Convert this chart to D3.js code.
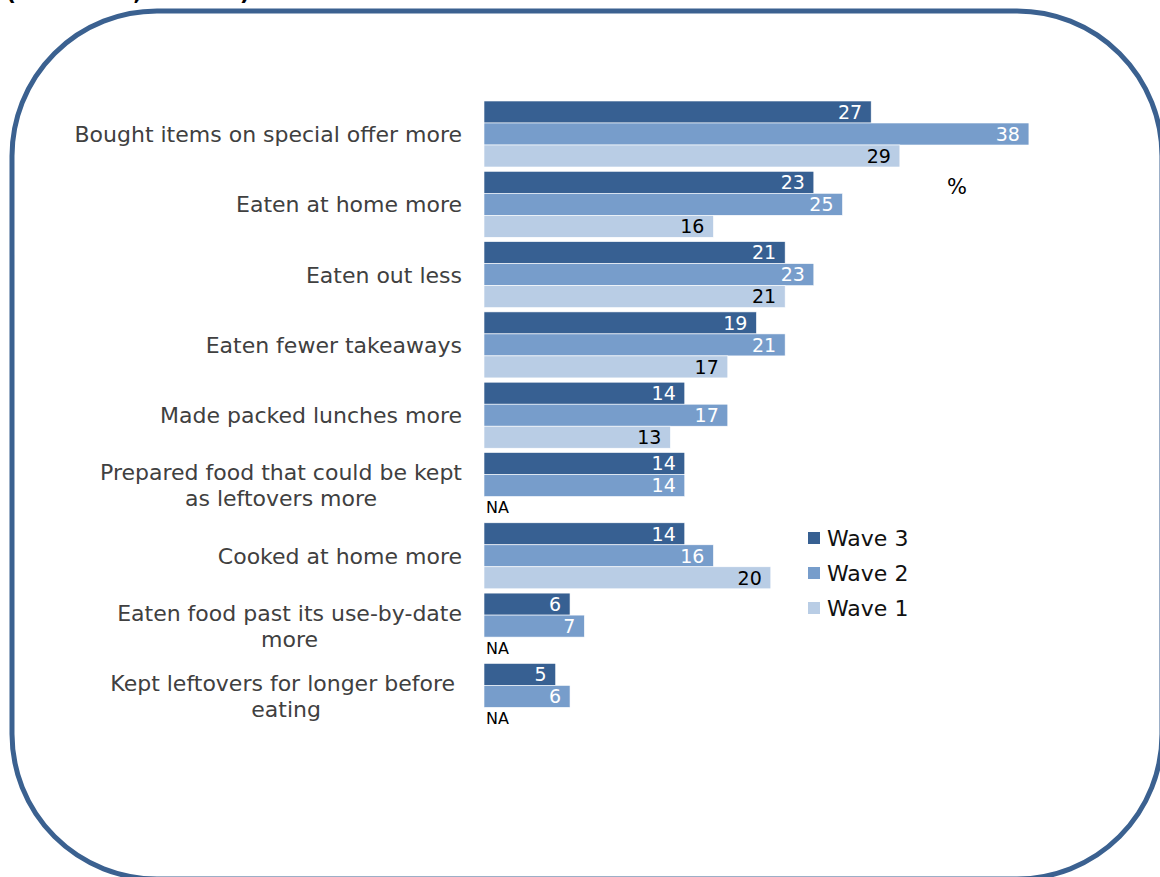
<!DOCTYPE html>
<html><head><meta charset="utf-8">
<script src="https://cdn.jsdelivr.net/npm/d3@7"></script>
<style>
html,body{margin:0;padding:0;background:#fff;overflow:hidden;}
svg{display:block;}
</style></head>
<body>
<svg id="chart" width="1160" height="877"></svg>
<script>
const categories = [
  ["Bought items on special offer more"],
  ["Eaten at home more"],
  ["Eaten out less"],
  ["Eaten fewer takeaways"],
  ["Made packed lunches more"],
  ["Prepared food that could be kept", "as leftovers more"],
  ["Cooked at home more"],
  ["Eaten food past its use-by-date", "more"],
  ["Kept leftovers for longer before ", "eating"]
];
const series = ["Wave 3", "Wave 2", "Wave 1"];
const wave3 = [27, 23, 21, 19, 14, 14, 14, 6, 5];
const wave2 = [38, 25, 23, 21, 17, 14, 16, 7, 6];
const wave1 = [29, 16, 21, 17, 13, null, 20, null, null];
const colors = ["#376092", "#779dcb", "#b9cde5"];
const labelColors = ["#ffffff", "#ffffff", "#000000"];
const unitLabel = "%";
const titleText = "(All adults, Wave 3)";

const svg = d3.select("#chart");
const FONT = "Verdana, 'DejaVu Sans', sans-serif";

// frame
svg.append("rect").attr("x", 12).attr("y", 11).attr("width", 1150).attr("height", 868)
  .attr("rx", 145).attr("ry", 145).attr("fill", "none")
  .attr("stroke", "#3b6190").attr("stroke-width", 5);

svg.append("text").attr("x", 6).attr("y", 0).attr("font-family", FONT)
  .attr("font-weight", "bold").attr("font-size", 22).attr("fill", "#000").text(titleText);

const catIdx = categories.map((d, i) => i);
const y0 = d3.scaleBand().domain(catIdx).range([101, 101 + 9 * 70.3]);
const y1 = d3.scaleBand().domain(series).range([0, 66]);
const x = d3.scaleLinear().domain([0, 40]).range([484, 484 + 14.34 * 40]);

const data = [wave3, wave2, wave1];
const g = svg.append("g");
catIdx.forEach(ci => {
  series.forEach((s, si) => {
    const v = data[si][ci];
    const yy = y0(ci) + y1(s);
    if (v == null) {
      g.append("text").attr("x", x(0) + 2).attr("y", yy + y1.bandwidth() / 2)
        .attr("dy", "0.36em").attr("font-family", FONT).attr("font-size", 16)
        .attr("fill", "#000").text("NA");
      return;
    }
    g.append("rect").attr("x", x(0)).attr("y", yy)
      .attr("width", x(v) - x(0)).attr("height", y1.bandwidth())
      .attr("fill", colors[si]).attr("stroke", "#ffffff").attr("stroke-width", 0.6);
    g.append("text").attr("x", x(v) - 9).attr("y", yy + y1.bandwidth() / 2)
      .attr("dy", "0.36em").attr("text-anchor", "end")
      .attr("font-family", FONT).attr("font-size", 19)
      .attr("fill", labelColors[si]).text(v);
  });
});

// category labels
catIdx.forEach(ci => {
  const lines = categories[ci];
  const cy = y0(ci) + 33;
  if (lines.length === 1) {
    svg.append("text").attr("x", 462).attr("y", cy).attr("dy", "0.36em")
      .attr("text-anchor", "end").attr("font-family", FONT).attr("font-size", 22)
      .attr("fill", "#404040").text(lines[0]);
  } else {
    const t = svg.append("g");
    const tx = lines.map((l, li) => t.append("text").attr("y", cy + (li - (lines.length - 1) / 2) * 26)
      .attr("dy", "0.36em").attr("text-anchor", "middle").attr("font-family", FONT)
      .attr("font-size", 22).attr("fill", "#404040").style("white-space", "pre").text(l));
    const w = d3.max(tx, n => n.node().getComputedTextLength());
    tx.forEach(n => n.attr("x", 462 - w / 2));
  }
});

svg.append("text").attr("x", 947).attr("y", 186).attr("dy", "0.36em")
  .attr("font-family", FONT).attr("font-size", 21).attr("fill", "#000").text(unitLabel);

// legend
series.forEach((s, i) => {
  const ly = 538 + i * 35;
  svg.append("rect").attr("x", 808).attr("y", ly - 6).attr("width", 12).attr("height", 12).attr("fill", colors[i]);
  svg.append("text").attr("x", 827).attr("y", ly).attr("dy", "0.36em")
    .attr("font-family", FONT).attr("font-size", 22).attr("fill", "#111").text(s);
});
</script>
</body></html>
